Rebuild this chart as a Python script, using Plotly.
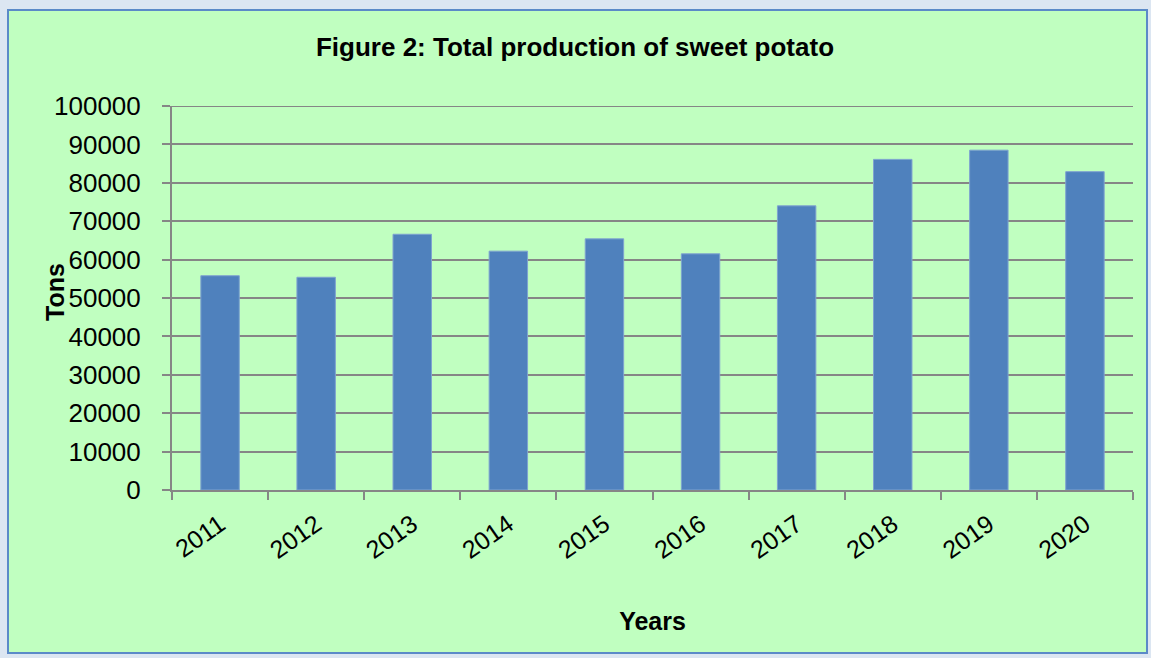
import plotly.graph_objects as go

years = ["2011", "2012", "2013", "2014", "2015", "2016", "2017", "2018", "2019", "2020"]
production = [55800, 55400, 66600, 62200, 65400, 61500, 74000, 86100, 88500, 82900]

W, H = 1151, 658
L, R, T, B = 172, 18, 106, 168
pw, ph = W - L - R, H - T - B

def px_x(x):
    return (x - L) / pw

def px_y(y):
    return (H - B - y) / ph

fig = go.Figure()
fig.add_trace(go.Bar(
    x=years, y=production,
    marker=dict(color="#4F81BD", line=dict(color="#7FA3D0", width=1)),
    width=0.4,
))

fig.add_shape(type="rect", xref="paper", yref="paper",
              x0=px_x(8), x1=px_x(1147), y0=px_y(653), y1=px_y(10),
              fillcolor="#C0FFC0", line=dict(color="#5B8AC8", width=2), layer="below")
fig.add_shape(type="line", xref="paper", yref="y",
              x0=0, x1=1, y0=100000, y1=100000,
              line=dict(color="#868686", width=2), layer="below")

fig.add_annotation(text="<b>Tons</b>", xref="paper", yref="paper",
                   x=px_x(55), y=px_y(292), showarrow=False, textangle=-90,
                   xanchor="center", yanchor="middle", font=dict(size=25))

fig.update_layout(
    width=W, height=H,
    margin=dict(l=L, r=R, t=T, b=B),
    paper_bgcolor="#DCE6F2",
    plot_bgcolor="#D9D9D9",
    font=dict(family="Liberation Sans, Arial, sans-serif", color="black"),
    title=dict(text="<b>Figure 2: Total production of sweet potato</b>",
               x=575 / W, xref="container", xanchor="center",
               y=1 - 47 / H, yref="container", yanchor="middle",
               font=dict(size=26, color="black")),
    showlegend=False,
    bargap=0.6,
)
fig.update_yaxes(
    range=[0, 100000], dtick=10000, tickformat="d",
    showgrid=True, gridcolor="#868686", gridwidth=2,
    showline=True, linecolor="#868686", linewidth=2,
    ticks="outside", ticklen=8, tickcolor="#868686", tickwidth=2,
    tickfont=dict(size=26), zeroline=False, ticklabelstandoff=16,
)
fig.update_xaxes(
    type="category", tickangle=-35, tickson="boundaries",
    showline=True, linecolor="#868686", linewidth=2,
    ticks="outside", ticklen=8, tickcolor="#868686", tickwidth=2,
    tickfont=dict(size=25), showgrid=False, ticklabelstandoff=8,
    title=dict(text="<b>Years</b>", font=dict(size=25), standoff=50),
)

fig.write_html("out.html")
